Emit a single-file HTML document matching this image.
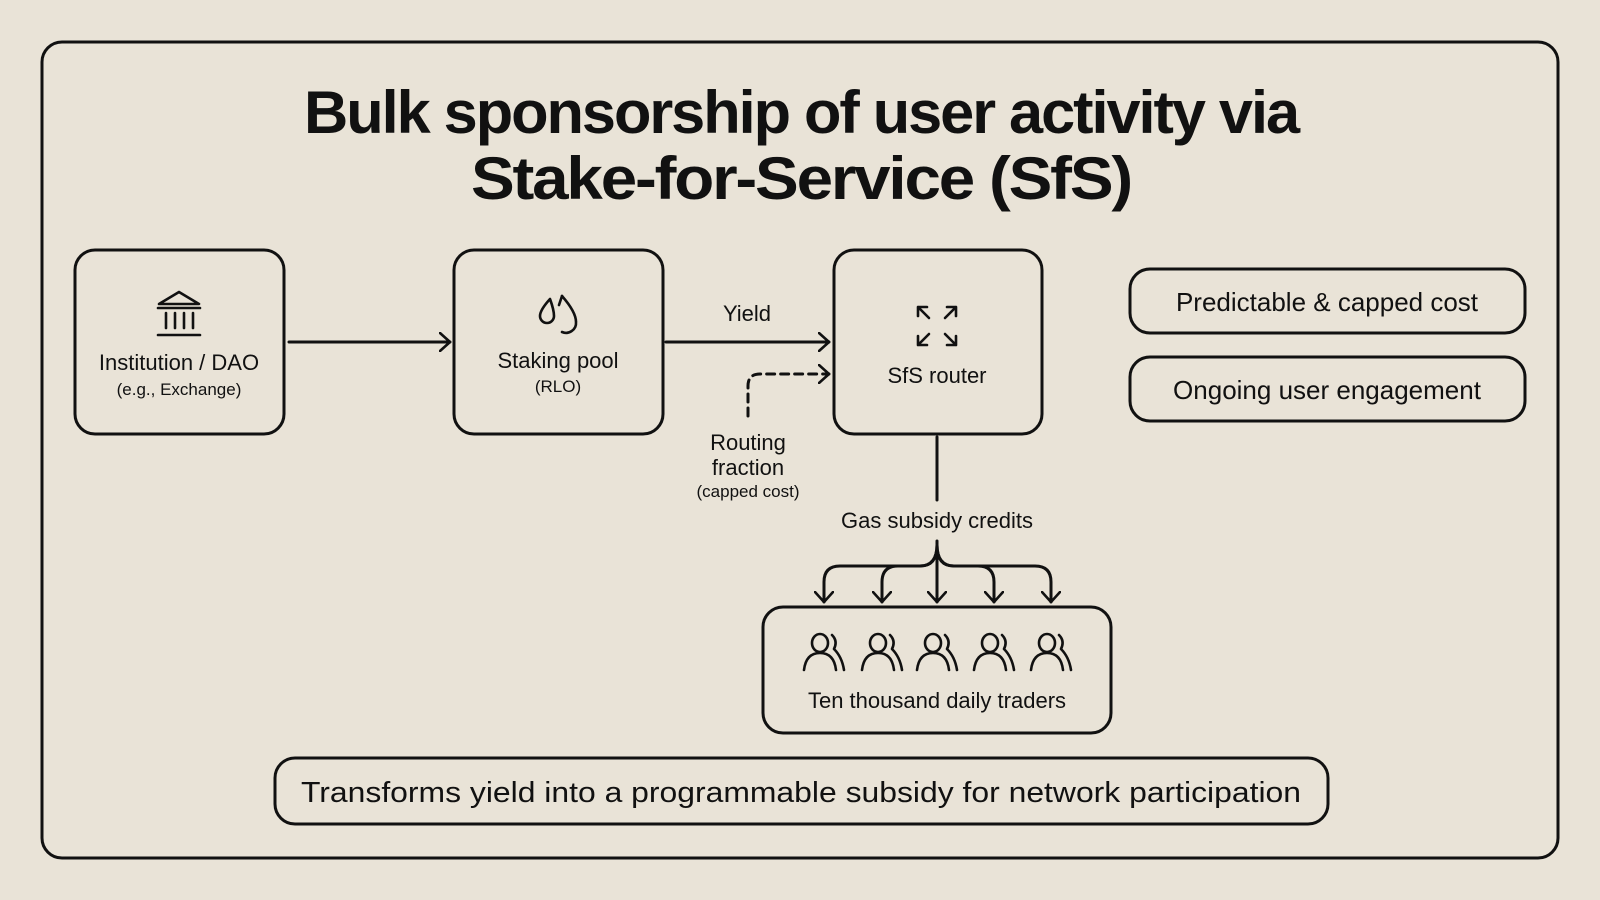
<!DOCTYPE html>
<html><head><meta charset="utf-8"><style>
html,body{margin:0;padding:0;background:#e9e3d7;}
svg{display:block}
text{font-family:"Liberation Sans",sans-serif;fill:#111;}
</style></head><body>
<svg width="1600" height="900" viewBox="0 0 1600 900" xmlns="http://www.w3.org/2000/svg">
<defs>
<marker id="ah" viewBox="0 0 12 20" refX="11" refY="10" markerWidth="12" markerHeight="20" markerUnits="userSpaceOnUse" orient="auto">
<path d="M1 1 L11 10 L1 19" fill="none" stroke="#111" stroke-width="2.6" stroke-linecap="round" stroke-linejoin="round"/>
</marker>
<g id="u">
<path d="M-12 -10 A8 9 0 1 1 4 -10 A8 9 0 1 1 -12 -10"/>
<path d="M-20 17 Q-18 0 -4 0 Q10 0 12 17"/>
<path d="M8 -18 Q14 -12 10 -4 Q18 4 20 17"/>
</g>
</defs>
<rect width="1600" height="900" fill="#e9e3d7"/>
<rect x="42" y="42" width="1516" height="816" rx="20" fill="none" stroke="#111" stroke-width="3"/>

<text x="801" y="133" font-size="60" font-weight="bold" text-anchor="middle" textLength="994" lengthAdjust="spacingAndGlyphs" letter-spacing="-2">Bulk sponsorship of user activity via</text>
<text x="801" y="199" font-size="60" font-weight="bold" text-anchor="middle" textLength="660" lengthAdjust="spacingAndGlyphs" letter-spacing="-2">Stake-for-Service (SfS)</text>

<g fill="none" stroke="#111" stroke-width="3">
<rect x="75" y="250" width="209" height="184" rx="20"/>
<rect x="454" y="250" width="209" height="184" rx="20"/>
<rect x="834" y="250" width="208" height="184" rx="20"/>
<rect x="1130" y="269" width="395" height="64" rx="20"/>
<rect x="1130" y="357" width="395" height="64" rx="20"/>
<rect x="763" y="607" width="348" height="126" rx="20"/>
<rect x="275" y="758" width="1053" height="66" rx="20"/>
</g>

<g fill="none" stroke="#111" stroke-width="3" stroke-linecap="round">
<line x1="289" y1="342" x2="450" y2="342" marker-end="url(#ah)"/>
<line x1="666" y1="342" x2="829" y2="342" marker-end="url(#ah)"/>
<path d="M748 416 L748 386 Q748 374 760 374 L829 374" stroke-dasharray="8 6" marker-end="url(#ah)"/>
<line x1="937" y1="437" x2="937" y2="500"/>
<path d="M937 541 L937 602" marker-end="url(#ah)"/>
<path d="M937 545 Q937 566 920 566 L840 566 Q824 566 824 582 L824 602" marker-end="url(#ah)"/>
<path d="M937 545 Q937 566 920 566 L898 566 Q882 566 882 582 L882 602" marker-end="url(#ah)"/>
<path d="M937 545 Q937 566 954 566 L978 566 Q994 566 994 582 L994 602" marker-end="url(#ah)"/>
<path d="M937 545 Q937 566 954 566 L1035 566 Q1051 566 1051 582 L1051 602" marker-end="url(#ah)"/>
</g>

<g fill="none" stroke="#111" stroke-width="2.6" stroke-linecap="round" stroke-linejoin="round">
<path d="M159 304 L179 292 L199 304 Z"/>
<line x1="158" y1="308" x2="200" y2="308"/>
<line x1="166" y1="313" x2="166" y2="328"/><line x1="175" y1="313" x2="175" y2="328"/><line x1="184" y1="313" x2="184" y2="328"/><line x1="193" y1="313" x2="193" y2="328"/>
<line x1="158" y1="335" x2="200" y2="335"/>
<path d="M550 299 Q540 310 540 316 A7 7 0 0 0 554 316 Q554 310 550 299 Z"/>
<path d="M562 296 Q576 312 576 322 A10 10 0 0 1 562 332"/>
<path d="M562 296 L559 305"/>
<g transform="translate(937 326)">
<path d="M-19 -19 L-8 -8 M-19 -19 L-19 -10 M-19 -19 L-10 -19"/>
<path d="M19 -19 L8 -8 M19 -19 L19 -10 M19 -19 L10 -19"/>
<path d="M-19 19 L-8 8 M-19 19 L-19 10 M-19 19 L-10 19"/>
<path d="M19 19 L8 8 M19 19 L19 10 M19 19 L10 19"/>
</g>
<use href="#u" transform="translate(824 653)"/>
<use href="#u" transform="translate(882 653)"/>
<use href="#u" transform="translate(937 653)"/>
<use href="#u" transform="translate(994 653)"/>
<use href="#u" transform="translate(1051 653)"/>
</g>

<g text-anchor="middle">
<text x="179" y="370" font-size="22">Institution / DAO</text>
<text x="179" y="395" font-size="17">(e.g., Exchange)</text>
<text x="558" y="368" font-size="22">Staking pool</text>
<text x="558" y="392" font-size="17">(RLO)</text>
<text x="937" y="383" font-size="22">SfS router</text>
<text x="747" y="321" font-size="22">Yield</text>
<text x="748" y="450" font-size="22">Routing</text>
<text x="748" y="475" font-size="22">fraction</text>
<text x="748" y="497" font-size="17">(capped cost)</text>
<text x="937" y="528" font-size="22">Gas subsidy credits</text>
<text x="937" y="708" font-size="22">Ten thousand daily traders</text>
<text x="1327" y="311" font-size="26">Predictable &amp; capped cost</text>
<text x="1327" y="399" font-size="26">Ongoing user engagement</text>
<text x="801" y="802" font-size="29" textLength="1000" lengthAdjust="spacingAndGlyphs">Transforms yield into a programmable subsidy for network participation</text>
</g>
</svg>
</body></html>
